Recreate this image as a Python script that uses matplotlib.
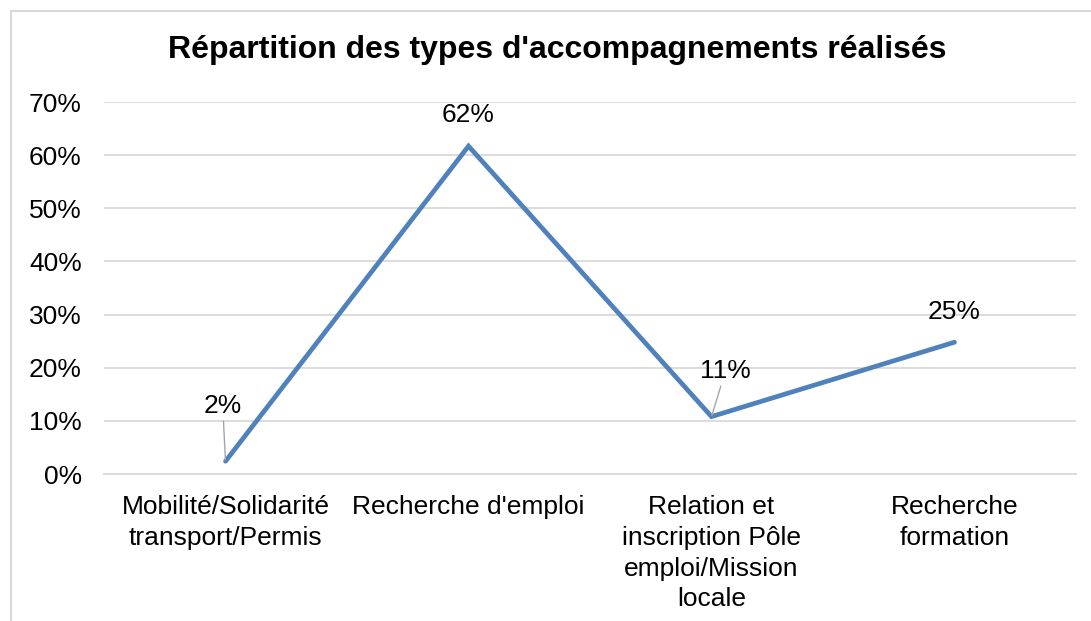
import matplotlib as mpl
import matplotlib.pyplot as plot
import matplotlib.ticker as ticker
from matplotlib.patches import Rectangle

mpl.rcParams['font.family'] = ['Liberation Sans', 'DejaVu Sans']

categories = ["Mobilité/Solidarité\ntransport/Permis", "Recherche d'emploi",
              "Relation et\ninscription Pôle\nemploi/Mission\nlocale", "Recherche\nformation"]
values = [2.4, 61.7, 10.8, 24.8]
labels = ["2%", "62%", "11%", "25%"]
# label offsets in points (dx, dy), leader line drawn when needed
offsets = [(-2, 31), (0, 14), (10, 24), (0, 13)]
leaders = [True, False, True, False]

W, H = 1091, 621
fig = plot.figure(figsize=(W / 100, H / 100), dpi=100)
ax = fig.add_axes([104 / W, 1 - 474 / H, (1076 - 104) / W, (474 - 102) / H])

x = list(range(len(categories)))
ax.plot(x, values, color="#4F81BD", linewidth=3.4, solid_capstyle='round', solid_joinstyle='miter')

for xi, v, lab, off, lead in zip(x, values, labels, offsets, leaders):
    if lead:
        ax.annotate(lab, (xi, v), xytext=off, textcoords='offset points', ha='center', va='bottom',
                    fontsize=19, color='black',
                    arrowprops=dict(arrowstyle='-', color='#A6A6A6', lw=1, shrinkA=0, shrinkB=1))
    else:
        ax.annotate(lab, (xi, v), xytext=off, textcoords='offset points', ha='center', va='bottom',
                    fontsize=19, color='black')

ax.set_xlim(-0.5, len(categories) - 0.5)
ax.set_ylim(0, 70)
ax.yaxis.set_major_locator(ticker.MultipleLocator(10))
ax.yaxis.set_major_formatter(ticker.FuncFormatter(lambda v, p: "%d%%" % v))
ax.set_xticks(x)
ax.set_xticklabels(categories, fontsize=19, linespacing=1.36)
for label in ax.get_yticklabels():
    label.set_fontsize(19)
ax.tick_params(axis='x', length=0, pad=15)
ax.tick_params(axis='y', length=0, pad=16)

ax.yaxis.grid(True, color='#D9D9D9', linewidth=1.3)
ax.set_axisbelow(True)
for s in ['top', 'right', 'left']:
    ax.spines[s].set_visible(False)
ax.spines['bottom'].set_color('#D9D9D9')
ax.spines['bottom'].set_linewidth(1.3)

fig.text(557 / W, 1 - 50 / H, "Répartition des types d'accompagnements réalisés",
         ha='center', va='center', fontsize=23, weight='bold')

fig.patches.append(Rectangle((11 / W, -0.1), 1.2, 1.1 - 11 / H, transform=fig.transFigure,
                             fill=False, edgecolor='#D9D9D9', linewidth=1.5))

plot.savefig("out.png", dpi=100)
